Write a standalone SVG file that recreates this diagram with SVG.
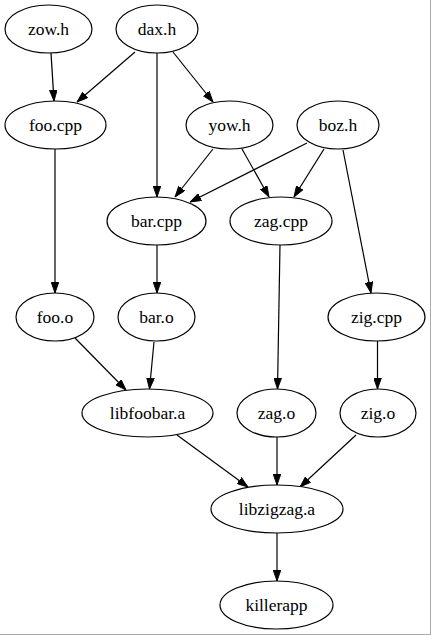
<svg xmlns="http://www.w3.org/2000/svg" width="431" height="635" viewBox="0 0 431 635" font-family="Liberation Serif, Times New Roman, serif">
<style>
.n ellipse{fill:#fff;stroke:#000;stroke-width:1.2}
.n text{font-size:17.5px;text-anchor:middle;fill:#000}
.e line{stroke:#000;stroke-width:1.2;marker-end:url(#ah)}
</style>
<defs>
<marker id="ah" markerUnits="userSpaceOnUse" markerWidth="11" markerHeight="8" refX="10" refY="3.5" orient="auto" viewBox="0 0 10 7">
<path d="M0,0 L10,3.5 L0,7 z" fill="#000" stroke="#000" stroke-width="0.8"/>
</marker>
</defs>
<rect width="431" height="635" fill="#fff"/>
<line x1="430.5" y1="0" x2="430.5" y2="635" stroke="#aaa"/>
<line x1="0" y1="634.5" x2="431" y2="634.5" stroke="#aaa"/>
<g id="edges" class="e">
<line x1="51" y1="53" x2="54" y2="101"/>
<line x1="135" y1="52" x2="77" y2="102"/>
<line x1="157" y1="53" x2="157" y2="197"/>
<line x1="173" y1="52" x2="213" y2="102"/>
<line x1="213" y1="149" x2="175" y2="197"/>
<line x1="242" y1="149" x2="269" y2="197"/>
<line x1="307" y1="143" x2="190" y2="202"/>
<line x1="324" y1="149" x2="294" y2="197"/>
<line x1="343" y1="150" x2="371" y2="293"/>
<line x1="55" y1="149" x2="55" y2="293"/>
<line x1="157" y1="245" x2="157" y2="293"/>
<line x1="280" y1="245" x2="277.5" y2="389"/>
<line x1="377.5" y1="341" x2="377.5" y2="389"/>
<line x1="75" y1="338" x2="126" y2="390"/>
<line x1="154" y1="342" x2="149.5" y2="389"/>
<line x1="177" y1="435" x2="248" y2="487"/>
<line x1="277" y1="437" x2="277" y2="485"/>
<line x1="356" y1="435" x2="300" y2="487"/>
<line x1="277" y1="533" x2="277" y2="581"/>
</g>
<g id="zow.h" class="n"><ellipse cx="48.5" cy="29" rx="43.5" ry="24"/><text x="48.5" y="35">zow.h</text></g>
<g id="dax.h" class="n"><ellipse cx="157" cy="29" rx="41" ry="24"/><text x="157" y="35">dax.h</text></g>
<g id="foo.cpp" class="n"><ellipse cx="55.5" cy="125" rx="50.5" ry="24"/><text x="55.5" y="131">foo.cpp</text></g>
<g id="yow.h" class="n"><ellipse cx="229.5" cy="125" rx="43.5" ry="24"/><text x="229.5" y="131">yow.h</text></g>
<g id="boz.h" class="n"><ellipse cx="338" cy="125" rx="41" ry="24"/><text x="338" y="131">boz.h</text></g>
<g id="bar.cpp" class="n"><ellipse cx="156.5" cy="221" rx="49.5" ry="24"/><text x="156.5" y="227">bar.cpp</text></g>
<g id="zag.cpp" class="n"><ellipse cx="281" cy="221" rx="51" ry="24"/><text x="281" y="227">zag.cpp</text></g>
<g id="foo.o" class="n"><ellipse cx="55" cy="317" rx="39" ry="24"/><text x="55" y="323">foo.o</text></g>
<g id="bar.o" class="n"><ellipse cx="156.5" cy="317" rx="38.5" ry="24"/><text x="156.5" y="323">bar.o</text></g>
<g id="zig.cpp" class="n"><ellipse cx="376.5" cy="317" rx="48.5" ry="24"/><text x="376.5" y="323">zig.cpp</text></g>
<g id="libfoobar.a" class="n"><ellipse cx="147.5" cy="413" rx="65.5" ry="24"/><text x="147.5" y="419">libfoobar.a</text></g>
<g id="zag.o" class="n"><ellipse cx="276.5" cy="413" rx="39.5" ry="24"/><text x="276.5" y="419">zag.o</text></g>
<g id="zig.o" class="n"><ellipse cx="378" cy="413" rx="38" ry="24"/><text x="378" y="419">zig.o</text></g>
<g id="libzigzag.a" class="n"><ellipse cx="277" cy="509" rx="66" ry="24"/><text x="277" y="515">libzigzag.a</text></g>
<g id="killerapp" class="n"><ellipse cx="276.5" cy="605" rx="56.5" ry="24"/><text x="276.5" y="611">killerapp</text></g>
</svg>
